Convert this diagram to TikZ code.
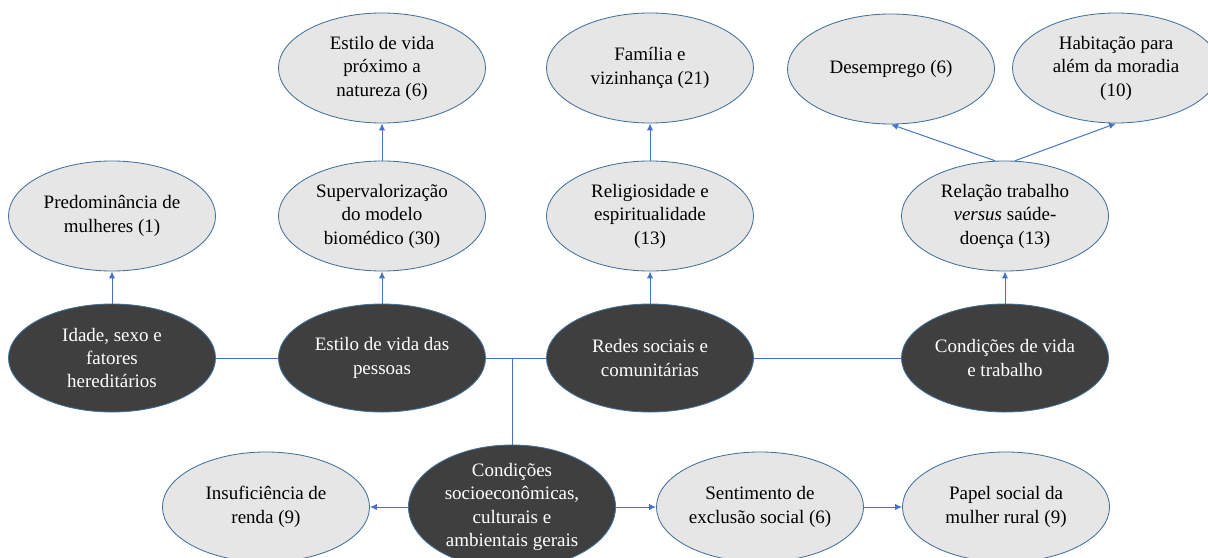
\documentclass[tikz,border=0pt]{standalone}
\usepackage{fontspec}
\setmainfont{Liberation Serif}
\newfontfamily\serifa{Liberation Serif}
\usetikzlibrary{shapes.geometric,arrows.meta}
\definecolor{bordo}{HTML}{41719C}
\definecolor{azul}{HTML}{4472C4}
\definecolor{escuro}{HTML}{3F3F3F}
\definecolor{claro}{HTML}{E7E6E6}

\begin{document}
\begin{tikzpicture}[x=0.025cm,y=0.025cm]
\tikzstyle{every node}+=[inner sep=0pt, align=center, font=\serifa\fontsize{13.5}{16.7}\selectfont]
\tikzstyle{determ}=[ellipse, draw=bordo, line width=0.6pt, fill=escuro, text=white, minimum width=5.175cm, minimum height=2.7cm]
\tikzstyle{categ}=[ellipse, draw=bordo, line width=0.6pt, fill=claro, text=black, minimum width=5.175cm, minimum height=2.75cm]
\tikzstyle{liga}=[draw=azul, line width=0.7pt]
\tikzstyle{seta}=[liga, -{Latex[length=5pt,width=4.5pt]}]
\useasboundingbox (0,0) rectangle (1208,-558);
% determinantes
\node [determ] (idade) at (112,-358) {Idade, sexo e\\fatores\\hereditários};
\node [determ] (estilo) at (382,-358) {Estilo de vida das\\pessoas};
\node [determ] (redes) at (650,-358) {Redes sociais e\\comunitárias};
\node [determ] (condvida) at (1005,-358) {Condições de vida\\e trabalho};
\node [determ] (socio) at (512,-507) {Condições\\socioeconômicas,\\culturais e\\ambientais gerais};
% categorias
\node [categ] (predom) at (112,-216) {Predominância de\\mulheres (1)};
\node [categ] (superv) at (382,-216) {Supervalorização\\do modelo\\biomédico (30)};
\node [categ] (natur) at (382,-68) {Estilo de vida\\próximo a\\natureza (6)};
\node [categ] (relig) at (650,-216) {Religiosidade e\\espiritualidade\\(13)};
\node [categ] (famil) at (650,-68) {Família e\\vizinhança (21)};
\node [categ] (relacao) at (1005,-216) {Relação trabalho\\\textit{versus} saúde-\\doença (13)};
\node [categ] (desemp) at (891,-69) {Desemprego (6)};
\node [categ] (habit) at (1116,-68) {Habitação para\\além da moradia\\(10)};
\node [categ] (insuf) at (266,-507) {Insuficiência de\\renda (9)};
\node [categ] (exclus) at (760,-507) {Sentimento de\\exclusão social (6)};
\node [categ] (papel) at (1006,-507) {Papel social da\\mulher rural (9)};
% ligacoes
\draw [liga] (idade) -- (estilo);
\draw [liga] (estilo) -- (redes);
\draw [liga] (redes) -- (condvida);
\draw [liga] (socio.north) -- (socio.north |- estilo.east);
\draw [seta] (idade) -- (predom);
\draw [seta] (estilo) -- (superv);
\draw [seta] (superv) -- (natur);
\draw [seta] (redes) -- (relig);
\draw [seta] (relig) -- (famil);
\draw [seta] (condvida) -- (relacao);
\draw [seta] (relacao.100) -- (desemp.south);
\draw [seta] (relacao.80) -- (habit.south);
\draw [seta] (socio) -- (insuf);
\draw [seta] (socio) -- (exclus);
\draw [seta] (exclus) -- (papel);
\end{tikzpicture}
\end{document}
